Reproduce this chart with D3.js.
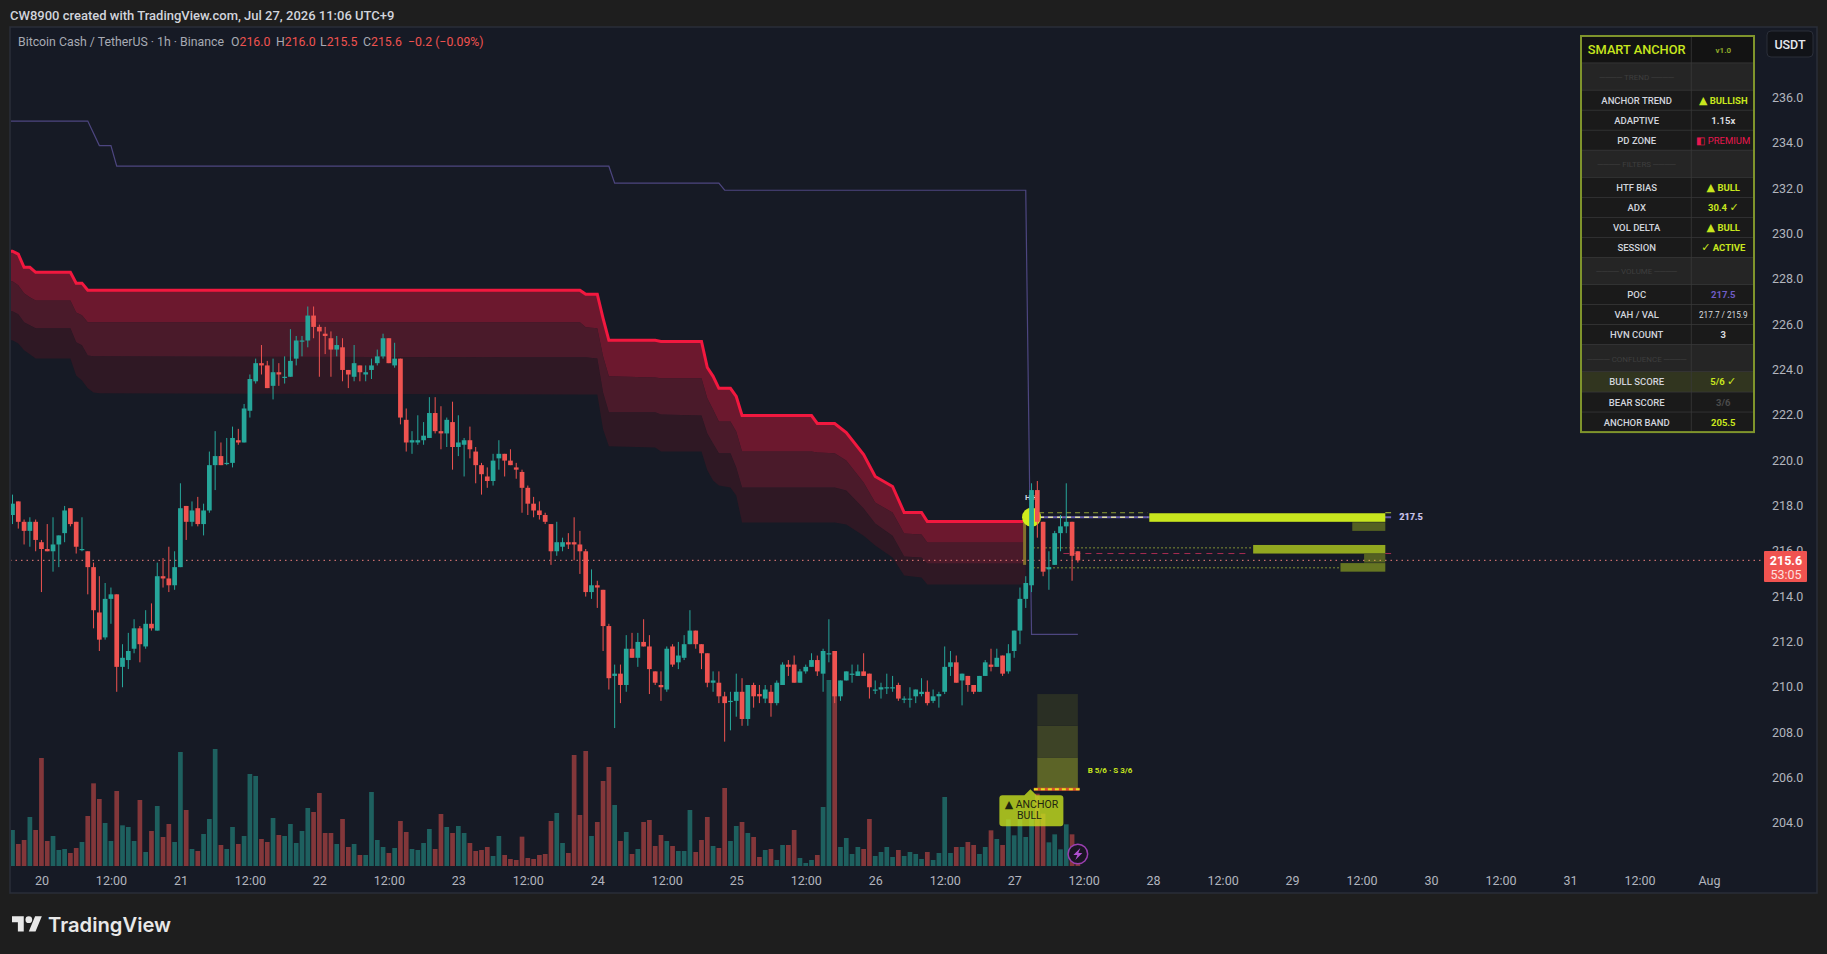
<!DOCTYPE html>
<html>
<head>
<meta charset="utf-8">
<style>
  html, body { margin: 0; padding: 0; background: #1e1e1e; overflow: hidden; }
  text { font-family: Roboto, "Noto Sans", sans-serif; }
</style>
<script src="https://cdn.jsdelivr.net/npm/d3@7"></script>
</head>
<body>
<div class="chart"></div>
<script>
var width = 1827,
    height = 954;

// hourly candles, first bar is Jul 19 19:00
const opens = [217.6,218.2,217.3,216.9,217.3,216.4,216.1,216.0,216.3,216.8,217.9,217.3,216.1,216.0,215.3,213.3,212.2,213.9,214.1,210.9,211.2,211.7,212.6,211.8,212.8,212.5,214.9,214.8,214.5,215.3,218.0,217.3,217.9,217.2,217.8,219.8,220.2,219.9,219.9,220.9,220.8,222.2,223.5,224.3,224.2,223.3,223.9,223.7,223.7,224.5,225.3,225.3,226.4,225.9,225.6,225.4,224.9,225.0,224.0,223.7,224.2,223.8,224.0,224.3,224.6,225.4,224.2,224.5,221.8,220.8,220.8,220.9,221.0,222.1,221.3,221.2,221.7,220.6,220.7,220.9,220.4,219.8,219.3,219.1,220.1,
  220.3,220.0,219.7,219.5,218.8,218.1,217.8,217.6,217.2,216.0,216.2,216.4,216.4,216.3,216.0,214.2,214.5,214.3,212.7,210.5,210.6,210.1,211.7,211.3,212.0,211.8,210.7,210.1,209.9,211.8,211.1,211.3,211.9,212.5,211.9,211.5,210.2,210.2,209.6,209.4,209.4,209.8,208.6,210.1,209.7,209.5,209.8,209.3,210.1,211.0,211.0,210.2,210.7,210.9,211.2,210.6,211.5,211.6,209.6,210.3,210.6,210.5,210.7,210.6,209.9,209.9,210.0,210.0,210.1,209.5,209.5,209.6,209.7,209.8,209.4,209.6,209.8,210.9,211.1,210.3,210.5,210.1,209.8,
  210.5,211.0,210.9,211.4,210.7,211.6,212.5,213.9,214.5,218.7,217.3,215.2,215.4,216.8,217.1,217.3,216.0];
const highs = [218.5,218.2,217.4,217.5,217.4,216.5,217.2,217.5,216.7,218.0,217.9,217.3,217.5,216.0,215.5,214.9,214.6,214.4,214.1,211.9,212.4,213.0,212.7,213.4,213.7,215.5,215.7,216.2,216.0,219.0,218.0,218.2,218.4,218.1,220.4,221.3,220.8,221.0,221.5,221.4,222.5,223.8,224.5,225.1,224.4,224.5,224.3,224.6,225.8,225.5,225.5,226.8,226.8,226.0,225.9,225.7,225.5,225.4,224.0,225.1,224.2,224.2,224.5,224.9,225.6,225.4,225.2,224.5,222.3,221.3,222.0,221.7,222.8,222.8,222.4,221.9,222.6,222.0,221.0,221.5,220.6,219.9,219.7,220.3,220.9,
  220.3,220.5,219.9,219.6,218.9,218.4,218.2,217.7,217.2,217.3,216.6,216.8,217.5,216.9,216.1,215.2,214.7,214.3,212.8,211.0,211.0,212.3,212.4,212.4,213.0,212.3,210.7,210.7,211.8,211.9,212.0,212.3,213.4,212.5,211.9,211.5,210.7,210.7,209.8,209.8,210.6,210.4,210.1,210.2,210.1,210.1,210.1,210.3,211.1,211.2,211.4,210.8,211.0,211.5,211.4,211.7,213.0,211.6,210.3,210.7,211.0,211.0,211.5,210.6,210.3,210.2,210.6,210.5,210.2,209.6,210.0,209.9,210.4,210.3,209.9,209.8,211.8,211.6,211.4,210.6,210.5,210.1,210.5,
  211.2,211.7,211.7,211.4,211.9,212.5,214.4,214.9,219.0,219.1,217.3,216.0,216.9,217.6,219.0,217.3,216.0];
const lows = [217.2,217.0,216.3,216.2,216.0,214.2,216.0,215.1,215.3,216.4,217.1,215.9,216.0,214.1,212.6,211.6,212.1,212.8,209.8,210.0,210.8,211.5,211.1,211.7,212.5,212.5,214.4,214.2,214.3,215.3,216.5,217.1,217.1,216.7,217.7,218.7,219.8,219.8,219.7,220.7,220.8,221.9,223.4,223.8,223.2,222.7,223.3,223.4,223.7,224.2,224.6,225.0,225.4,223.7,224.7,223.7,224.6,223.5,223.2,223.5,223.5,223.5,223.6,224.2,224.5,224.3,224.1,221.6,220.4,220.3,220.7,220.7,221.0,221.2,220.5,220.6,219.6,220.2,219.3,220.1,219.0,218.5,218.8,218.9,219.6,
  219.3,219.8,219.2,217.7,217.6,217.5,217.4,217.2,215.4,215.8,216.0,216.1,215.6,215.0,214.0,213.9,213.5,211.6,209.9,208.2,209.3,209.8,211.3,210.9,211.8,209.7,210.1,209.4,209.8,210.9,210.8,211.2,211.9,211.7,210.8,210.0,209.8,209.3,207.6,208.1,208.7,208.3,208.3,209.1,209.3,209.3,208.7,209.2,210.1,210.5,210.2,210.2,210.6,210.9,210.5,209.8,211.1,209.3,209.4,210.3,210.2,210.5,210.5,209.5,209.7,209.5,209.7,209.8,209.4,209.3,209.1,209.3,209.6,209.2,209.3,209.1,209.7,210.5,210.2,209.2,209.8,209.7,209.8,
  210.5,210.7,210.9,210.5,210.6,211.3,211.9,213.5,214.2,216.6,214.9,214.3,215.4,216.0,216.8,214.7,215.5];
const closes = [218.1,217.3,216.9,217.3,216.5,216.1,216.0,216.3,216.7,217.8,217.2,216.2,216.1,215.3,213.4,212.1,213.9,214.1,210.9,211.3,211.6,212.6,211.9,212.8,212.6,214.9,214.8,214.5,215.3,217.9,217.3,217.8,217.2,217.8,219.8,220.2,219.8,219.9,221.0,220.8,222.3,223.6,224.3,224.2,223.2,223.9,223.8,223.7,224.4,225.3,225.3,226.4,225.9,225.7,225.5,224.9,225.1,224.0,223.8,224.3,223.9,223.9,224.2,224.6,225.4,224.3,224.5,221.9,220.8,220.9,220.9,221.1,222.1,221.3,221.2,221.8,220.6,220.8,220.9,220.5,219.8,219.4,219.1,220.0,220.3,
  220.0,219.8,219.6,218.8,218.1,217.8,217.6,217.3,216.0,216.4,216.4,216.3,216.3,216.0,214.2,214.5,214.4,212.7,210.4,210.6,210.1,211.7,211.3,212.0,211.8,210.8,210.2,210.0,211.7,211.0,211.4,211.9,212.5,211.9,211.5,210.2,210.3,209.6,209.3,209.4,209.8,208.6,210.1,209.6,209.6,209.9,209.3,210.2,211.0,210.9,210.2,210.7,210.9,211.2,210.7,211.6,211.5,209.6,210.3,210.7,210.6,210.7,210.5,210.0,209.9,210.0,210.0,210.0,209.5,209.5,209.5,209.9,209.8,209.3,209.6,209.7,210.9,211.1,210.2,210.6,210.1,209.8,210.5,
  211.1,210.9,211.3,210.6,211.5,212.5,213.9,214.6,218.7,217.3,215.1,215.3,216.8,217.1,217.3,215.8,215.6];
const volumes = [108,66,78,147,108,324,75,90,48,51,39,54,72,150,248,201,129,75,225,122,117,75,198,42,105,180,87,126,72,342,168,51,45,96,141,351,63,51,117,66,90,276,270,81,72,144,93,90,126,69,105,174,162,219,99,99,66,141,57,66,33,33,222,78,57,39,54,135,102,51,48,69,111,51,156,117,99,120,99,69,45,48,57,30,90,33,21,18,88,24,21,33,36,135,159,
  69,39,333,153,345,90,132,255,297,183,75,102,36,51,132,138,60,93,75,60,45,45,168,42,78,147,60,54,234,75,120,132,99,87,27,48,51,18,63,63,108,24,9,18,33,177,558,520,57,84,36,57,51,141,30,42,57,27,48,30,42,36,21,42,18,39,207,39,57,57,72,63,36,57,107,81,63,140,92,169,87,152,217,157,71,95,50,125,95,25];

// anchor band: bar index and the four edges at that bar
const bandBars = [-1,0,1,2,3,4,10,11,12,13,14,15,98,99,101,102,103,111,112,119,120,121,122,124,125,126,138,139,142,144,147,149,152,154,157,158,175];
const bandLine = [229.24,229.24,229.11,228.53,228.53,228.31,228.31,227.83,227.83,227.52,227.52,227.52,227.52,227.34,227.34,226.28,225.31,225.31,225.26,225.26,224.11,223.72,223.19,223.19,222.83,221.99,221.99,221.64,221.64,221.24,220.27,219.30,218.86,217.71,217.71,217.31,217.31];
const band1 = [227.91,227.91,227.74,227.38,227.21,227.07,227.07,226.54,226.41,226.10,226.10,226.10,226.10,225.88,225.84,224.60,223.72,223.67,223.63,223.63,222.75,222.26,221.73,221.73,221.29,220.40,220.40,220.36,220.32,220.01,219.04,218.15,217.71,216.78,216.74,216.39,216.39];
const band2 = [226.59,226.59,226.46,226.10,225.97,225.84,225.84,225.22,225.09,224.64,224.60,224.60,224.56,224.56,224.51,223.01,222.13,222.13,222.04,221.99,221.20,220.76,220.32,220.32,219.70,218.81,218.81,218.81,218.81,218.68,217.89,217.22,216.69,215.77,215.72,215.46,215.46];
const band3 = [225.31,225.31,225.17,224.87,224.69,224.51,224.51,223.76,223.54,223.19,223.01,222.97,222.92,222.92,222.92,221.38,220.63,220.58,220.40,220.40,219.57,219.12,218.90,218.81,218.46,217.27,217.27,217.27,217.27,217.18,216.69,216.25,215.72,214.93,214.84,214.53,214.53];

// thin purple stop line
const stopBars = [-1,13,15,17,18,103,104,122,123,175,176,184];
const stopPrices = [234.98,234.98,233.90,233.90,232.99,232.99,232.24,232.24,231.93,231.93,212.33,212.33];

// volume profile to the right of the last bar
const profileLow = [217.3,216.9,215.9,215.5,215.1];
const profileHigh = [217.7,217.3,216.3,215.9,215.5];
const profileVol = [100,14,56,9,19];
const profileShade = [1,0.35,0.7,0.35,0.45];
const pocPrice = 217.5, vahPrice = 217.7, valPrice = 215.9;

// long target zones under the last bars
const zonePrices = [205.5,206.9,208.3,209.7];

const lastPrice = 215.6;
const priceTicks = d3.range(204, 237, 2);
const timeBars = [5,17,29,41,53,65,77,89,101,113,125,137,149,161,173,185,197,209,221,233,245,257,269,281,293];
const timeLabels = ["20","12:00","21","12:00","22","12:00","23","12:00","24","12:00","25","12:00","26","12:00","27","12:00","28","12:00","29","12:00","30","12:00","31","12:00","Aug"];

const tableLabels = ["SMART ANCHOR","TREND","ANCHOR TREND","ADAPTIVE","PD ZONE","FILTERS","HTF BIAS","ADX","VOL DELTA","SESSION","VOLUME","POC","VAH / VAL","HVN COUNT","CONFLUENCE","BULL SCORE","BEAR SCORE","ANCHOR BAND"];
const tableValues = ["v1.0","","▲ BULLISH","1.15x","◧ PREMIUM","","▲ BULL","30.4 ✓","▲ BULL","✓ ACTIVE","","217.5","217.7 / 215.9","3","","5/6 ✓","3/6","205.5"];
const tableKinds = ["head","sep","row","row","row","sep","row","row","row","row","sep","row","row","row","sep","hi","row","row"];
const tableTones = ["olive","","lime","white","red","","lime","lime","lime","lime","","purple","small","white","","lime","dim","lime"];

const upColor = "#26a69a", downColor = "#ef5350", lime = "#c8e61e";

const svg = d3.select(".chart").append("svg")
    .attr("width", width)
    .attr("height", height)
    .style("display", "block");

const pane = { left: 10, top: 27, right: 1817, bottom: 893 };

svg.append("rect").attr("width", width).attr("height", height).attr("fill", "#1e1e1e");
svg.append("rect")
    .attr("x", pane.left).attr("y", pane.top)
    .attr("width", pane.right - pane.left).attr("height", pane.bottom - pane.top)
    .attr("fill", "#161a25")
    .attr("stroke", "#2a2e39")
    .attr("stroke-width", 1.5);

svg.append("clipPath").attr("id", "plot").append("rect")
    .attr("x", pane.left + 1).attr("y", pane.top)
    .attr("width", 1755).attr("height", pane.bottom - pane.top);

const x = d3.scaleLinear().domain([0, 184]).range([12.5, 12.5 + 184 * 5.79]);
const y = d3.scaleLinear().domain([214, 236]).range([596.6, 98]);
const yVol = d3.scaleLinear().domain([0, 558]).range([866, 680]);
const barW = 4.7;

const plot = svg.append("g").attr("clip-path", "url(#plot)");

// bands, darkest first
const bandRows = bandBars.map((b, i) => ({ b, l: bandLine[i], a: band1[i], c: band2[i], d: band3[i] }));
const area = (top, bottom) => d3.area().x(d => x(d.b)).y0(d => y(d[bottom])).y1(d => y(d[top]));

plot.append("path").attr("d", area("c", "d")(bandRows)).attr("fill", "#2f1824");
plot.append("path").attr("d", area("a", "c")(bandRows)).attr("fill", "#4a1a2a");
plot.append("path").attr("d", area("l", "a")(bandRows)).attr("fill", "#6c182e");

plot.append("path")
    .attr("d", d3.line().x(d => x(d.b)).y(d => y(d.l))(bandRows))
    .attr("fill", "none")
    .attr("stroke", "#f2183f")
    .attr("stroke-width", 3);

plot.append("line")
    .attr("x1", x(174.8)).attr("x2", x(174.8))
    .attr("y1", y(217.3)).attr("y2", y(215.4))
    .attr("stroke", "#83702c").attr("stroke-width", 3);

plot.append("path")
    .attr("d", d3.line().x((d, i) => x(stopBars[i])).y(d => y(d))(stopPrices))
    .attr("fill", "none")
    .attr("stroke", "#4d4680")
    .attr("stroke-width", 1.2);

// last price
plot.append("line")
    .attr("x1", pane.left).attr("x2", 1765)
    .attr("y1", y(lastPrice)).attr("y2", y(lastPrice))
    .attr("stroke", "#ef7f7c").attr("stroke-width", 1).attr("stroke-dasharray", "1.5 4");

// volume profile
const profileEnd = x(237.1);
const profileX = d3.scaleLinear().domain([0, 100]).range([0, 236]);

const levels = [
    { p: vahPrice, from: 177.3, to: 196, color: "#8e9c34", dash: "5 4", w: 1 },
    { p: pocPrice, from: 177.3, to: 238.1, color: "#635aab", dash: null, w: 2 },
    { p: pocPrice, from: 177.3, to: 196, color: "#e0e0a0", dash: "5 4", w: 1.5 },
    { p: 216.15, from: 176.3, to: 214.3, color: "#a1b43a", dash: "1.5 2.5", w: 1 },
    { p: 215.27, from: 176.3, to: 229.3, color: "#a1b43a", dash: "1.5 2.5", w: 1 },
    { p: valPrice, from: 181.5, to: 213.3, color: "#a82c52", dash: "6 5", w: 1 },
    { p: valPrice, from: 237.1, to: 238.1, color: "#a82c52", dash: null, w: 1 },
    { p: vahPrice, from: 237.1, to: 238.1, color: "#b3c93b", dash: null, w: 1 }
];
plot.selectAll(".level").data(levels).join("line")
    .attr("x1", d => x(d.from)).attr("x2", d => x(d.to))
    .attr("y1", d => y(d.p)).attr("y2", d => y(d.p))
    .attr("stroke", d => d.color)
    .attr("stroke-width", d => d.w)
    .attr("stroke-dasharray", d => d.dash);

plot.selectAll(".profile").data(profileVol).join("rect")
    .attr("x", d => profileEnd - profileX(d))
    .attr("width", d => profileX(d))
    .attr("y", (d, i) => y(profileHigh[i]) + 0.5)
    .attr("height", (d, i) => y(profileLow[i]) - y(profileHigh[i]) - 0.5)
    .attr("fill", lime)
    .attr("fill-opacity", (d, i) => profileShade[i]);

plot.append("text").attr("x", x(238.1) + 8).attr("y", y(pocPrice) + 3)
    .attr("fill", "#8a7fd0").attr("font-size", 9).attr("font-weight", 700).text("217.5");
plot.append("text").attr("x", x(238.1) + 8.5).attr("y", y(pocPrice) + 3)
    .attr("fill", "#d6d4e8").attr("fill-opacity", 0.85).attr("font-size", 9).attr("font-weight", 700).text("217.5");

// target zones
const zoneShades = ["#5c6427", "#3d4326", "#2a2f24"];
plot.selectAll(".zone").data(zonePrices.slice(0, 3)).join("rect")
    .attr("x", x(177)).attr("width", x(184) - x(177))
    .attr("y", (d, i) => y(zonePrices[i + 1]))
    .attr("height", (d, i) => y(zonePrices[i]) - y(zonePrices[i + 1]))
    .attr("fill", (d, i) => zoneShades[i]);

// signal circle behind the candles
plot.append("circle").attr("cx", x(176)).attr("cy", y(pocPrice)).attr("r", 9.5).attr("fill", "#d0ee1c");
plot.append("text").attr("x", x(176)).attr("y", y(218.4) + 3).attr("text-anchor", "middle")
    .attr("fill", "#d1d4dc").attr("font-size", 8).attr("font-weight", 700).text("H  H");

// volume
plot.selectAll(".vol").data(volumes).join("rect")
    .attr("x", (d, i) => x(i) - barW / 2)
    .attr("width", barW)
    .attr("y", d => yVol(d))
    .attr("height", d => yVol(0) - yVol(d))
    .attr("fill", (d, i) => closes[i] >= opens[i] ? upColor : downColor)
    .attr("fill-opacity", 0.5);

// candles
const candles = plot.selectAll(".candle").data(opens).join("g")
    .attr("fill", (d, i) => closes[i] >= opens[i] ? upColor : downColor)
    .attr("stroke", (d, i) => closes[i] >= opens[i] ? upColor : downColor);

candles.append("line")
    .attr("x1", (d, i) => x(i)).attr("x2", (d, i) => x(i))
    .attr("y1", (d, i) => y(highs[i])).attr("y2", (d, i) => y(lows[i]))
    .attr("stroke-width", 1);

candles.append("rect")
    .attr("x", (d, i) => x(i) - barW / 2)
    .attr("width", barW)
    .attr("y", (d, i) => y(Math.max(opens[i], closes[i])))
    .attr("height", (d, i) => Math.max(1.2, Math.abs(y(opens[i]) - y(closes[i]))))
    .attr("stroke", "none");

// anchor line on top of the zones
plot.append("line")
    .attr("x1", x(176.4)).attr("x2", x(184.3))
    .attr("y1", y(zonePrices[0])).attr("y2", y(zonePrices[0]))
    .attr("stroke", "#d8502c").attr("stroke-width", 3);
plot.append("line")
    .attr("x1", x(176.4)).attr("x2", x(184.3))
    .attr("y1", y(zonePrices[0])).attr("y2", y(zonePrices[0]))
    .attr("stroke", "#e2e01e").attr("stroke-width", 2).attr("stroke-dasharray", "4 3");

plot.append("text").attr("x", x(185.7)).attr("y", y(206.36) + 3)
    .attr("fill", lime).attr("font-size", 8).attr("font-weight", 700).text("B 5/6  ·  S 3/6");

// signal tag
const tagX = x(175.8), tagY = y(zonePrices[0]);
const tag = svg.append("g").attr("transform", `translate(${tagX},${tagY})`);
tag.append("path")
    .attr("d", "M-31 9Q-31 6 -28 6L-6 6L0 0L6 6L30 6Q33 6 33 9L33 34Q33 37 30 37L-28 37Q-31 37 -31 34Z")
    .attr("fill", "#c6e01e").attr("fill-opacity", 0.8);
const tagLine = tag.append("text").attr("x", 1).attr("y", 18.5).attr("text-anchor", "middle")
    .attr("fill", "#1e2410").attr("font-size", 10.5);
tagLine.append("tspan").style("font-family", "DejaVu Sans").attr("font-size", 11).text("▲");
tagLine.append("tspan").text(" ANCHOR");
tag.append("text").attr("x", -1).attr("y", 29.5).attr("text-anchor", "middle")
    .attr("fill", "#1e2410").attr("font-size", 10.5).text("BULL");

// bolt badge
const badge = svg.append("g").attr("transform", `translate(${x(184)},${yVol(36)})`);
badge.append("circle").attr("r", 9.8).attr("fill", "#1a1524").attr("stroke", "#9a3fb0").attr("stroke-width", 1.5);
badge.append("path").attr("d", "M2.5 -6L-4.5 1H-0.5L-2.5 6L4.5 -1H0.5Z").attr("fill", "#b04fd0");

// axes
const yAxis = d3.axisRight(y).tickValues(priceTicks).tickFormat(d3.format(".1f")).tickSize(0);
const axisR = svg.append("g").attr("transform", "translate(1772,0)").call(yAxis);
axisR.select(".domain").remove();
axisR.selectAll("text").attr("x", 0).attr("dy", "0.28em").attr("fill", "#b2b5be").style("font-size", "12.5px").style("font-family", "Roboto");

const xAxis = d3.axisBottom(x).tickValues(timeBars).tickFormat((d, i) => timeLabels[i]).tickSize(0);
const axisB = svg.append("g").attr("transform", "translate(0,872)").call(xAxis);
axisB.select(".domain").remove();
axisB.selectAll("text").attr("y", 4).attr("fill", "#b2b5be").style("font-size", "12.5px").style("font-family", "Roboto");

// last price label
svg.append("rect").attr("x", 1764).attr("y", 551).attr("width", 43).attr("height", 31).attr("rx", 1).attr("fill", "#f05350");
svg.append("text").attr("x", 1786).attr("y", y(lastPrice) + 4.5).attr("text-anchor", "middle")
    .attr("fill", "#fff").attr("font-size", 12.5).attr("font-weight", 700).text("215.6");
svg.append("text").attr("x", 1786).attr("y", y(lastPrice) + 19).attr("text-anchor", "middle")
    .attr("fill", "#fde0df").attr("font-size", 12.5).text("53:05");

// USDT button
svg.append("rect").attr("x", 1767).attr("y", 31).attr("width", 46).attr("height", 26).attr("rx", 4)
    .attr("fill", "#111318").attr("stroke", "#2a2e39");
svg.append("text").attr("x", 1790).attr("y", 48.5).attr("text-anchor", "middle")
    .attr("fill", "#e6e8ee").attr("font-size", 12.5).attr("font-weight", 500).text("USDT");

// dashboard table
const tableX = 1581, tableW = 173, splitX = 1691.3, col1 = 1636.7, col2 = 1723.3;
const rowH = { head: 27, sep: 27.2, row: 20, hi: 20.3 };
const rowFill = { head: "#131313", sep: "#252525", row: "#1a1a1a", hi: "#31351f" };
const toneFill = { olive: "#8ea82a", lime: lime, white: "#d8dadf", red: "#e8174e", purple: "#6f5cc4", small: "#d8dadf", dim: "#4a4a4a" };
let rowY = 36;
const table = svg.append("g");
tableLabels.forEach((label, i) => {
    const kind = tableKinds[i], h = rowH[kind];
    table.append("rect").attr("x", tableX).attr("y", rowY).attr("width", tableW).attr("height", h)
        .attr("fill", rowFill[kind]).attr("stroke", "#3a3a3a").attr("stroke-width", 0.6);
    const cy = rowY + h / 2 + 3.4;
    if (kind === "head") {
        table.append("text").attr("x", col1).attr("y", cy + 1.4).attr("text-anchor", "middle")
            .attr("fill", lime).attr("font-size", 12.8).attr("font-weight", 500).text(label);
    } else if (kind === "sep") {
        table.append("text").attr("x", col1).attr("y", cy).attr("text-anchor", "middle")
            .attr("fill", "#3e3e3e").attr("font-size", 8).text("──── " + label + " ────");
    } else {
        table.append("text").attr("x", col1).attr("y", cy).attr("text-anchor", "middle")
            .attr("fill", "#d1d4dc").attr("font-size", 9.5).attr("font-weight", 500).text(label);
    }
    if (tableValues[i]) {
        const tone = tableTones[i];
        const cell = table.append("text").attr("x", col2).attr("y", cy).attr("text-anchor", "middle")
            .attr("fill", toneFill[tone])
            .attr("font-size", tone === "small" ? 8.2 : (tone === "olive" ? 8 : 9.5))
            .attr("font-weight", (tone === "red" || tone === "small") ? 400 : 700);
        // triangle and tick come from DejaVu, they are too small in Roboto
        tableValues[i].split(/([▲✓])/).filter(s => s).forEach(s => {
            const mark = s === "▲" || s === "✓";
            cell.append("tspan")
                .style("font-family", mark ? "DejaVu Sans" : null)
                .attr("font-size", mark ? 11 : null)
                .attr("font-weight", mark ? 400 : null)
                .text(s);
        });
    }
    rowY += h;
});
table.append("line").attr("x1", splitX).attr("x2", splitX).attr("y1", 36).attr("y2", rowY).attr("stroke", "#3a3a3a").attr("stroke-width", 0.8);
table.append("rect").attr("x", tableX).attr("y", 36).attr("width", tableW).attr("height", rowY - 36)
    .attr("fill", "none").attr("stroke", "#7f942c").attr("stroke-width", 2);

// header and legend
svg.append("text").attr("x", 10).attr("y", 19.5)
    .attr("fill", "#d1d4dc").attr("font-size", 13).attr("font-weight", 500)
    .text("CW8900 created with TradingView.com, Jul 27, 2026 11:06 UTC+9");

const legend = svg.append("text").attr("x", 18).attr("y", 46).attr("font-size", 12.3).attr("fill", "#a8abb4");
legend.append("tspan").text("Bitcoin Cash / TetherUS · 1h · Binance");
[["O", "216.0", 231], ["H", "216.0", 276], ["L", "215.5", 320], ["C", "215.6", 363]].forEach(d => {
    legend.append("tspan").attr("x", d[2]).attr("fill", "#a8abb4").text(d[0]);
    legend.append("tspan").attr("fill", "#ef5350").text(d[1]);
});
legend.append("tspan").attr("x", 408).attr("fill", "#ef5350").text("−0.2 (−0.09%)");

// logo
const logo = svg.append("g").attr("transform", "translate(12,913) scale(0.84)").attr("fill", "#e8e8e8");
logo.append("path").attr("d", "M14 22H7V11H0V4h14v18zM28 22h-8l7.5-18h8L28 22z");
logo.append("circle").attr("cx", 20).attr("cy", 8).attr("r", 4);
svg.append("text").attr("x", 48).attr("y", 932)
    .attr("fill", "#e8e8e8").attr("font-size", 20.2).attr("font-weight", 600)
    .style("font-family", "Inter").text("TradingView");
</script>
</body>
</html>
